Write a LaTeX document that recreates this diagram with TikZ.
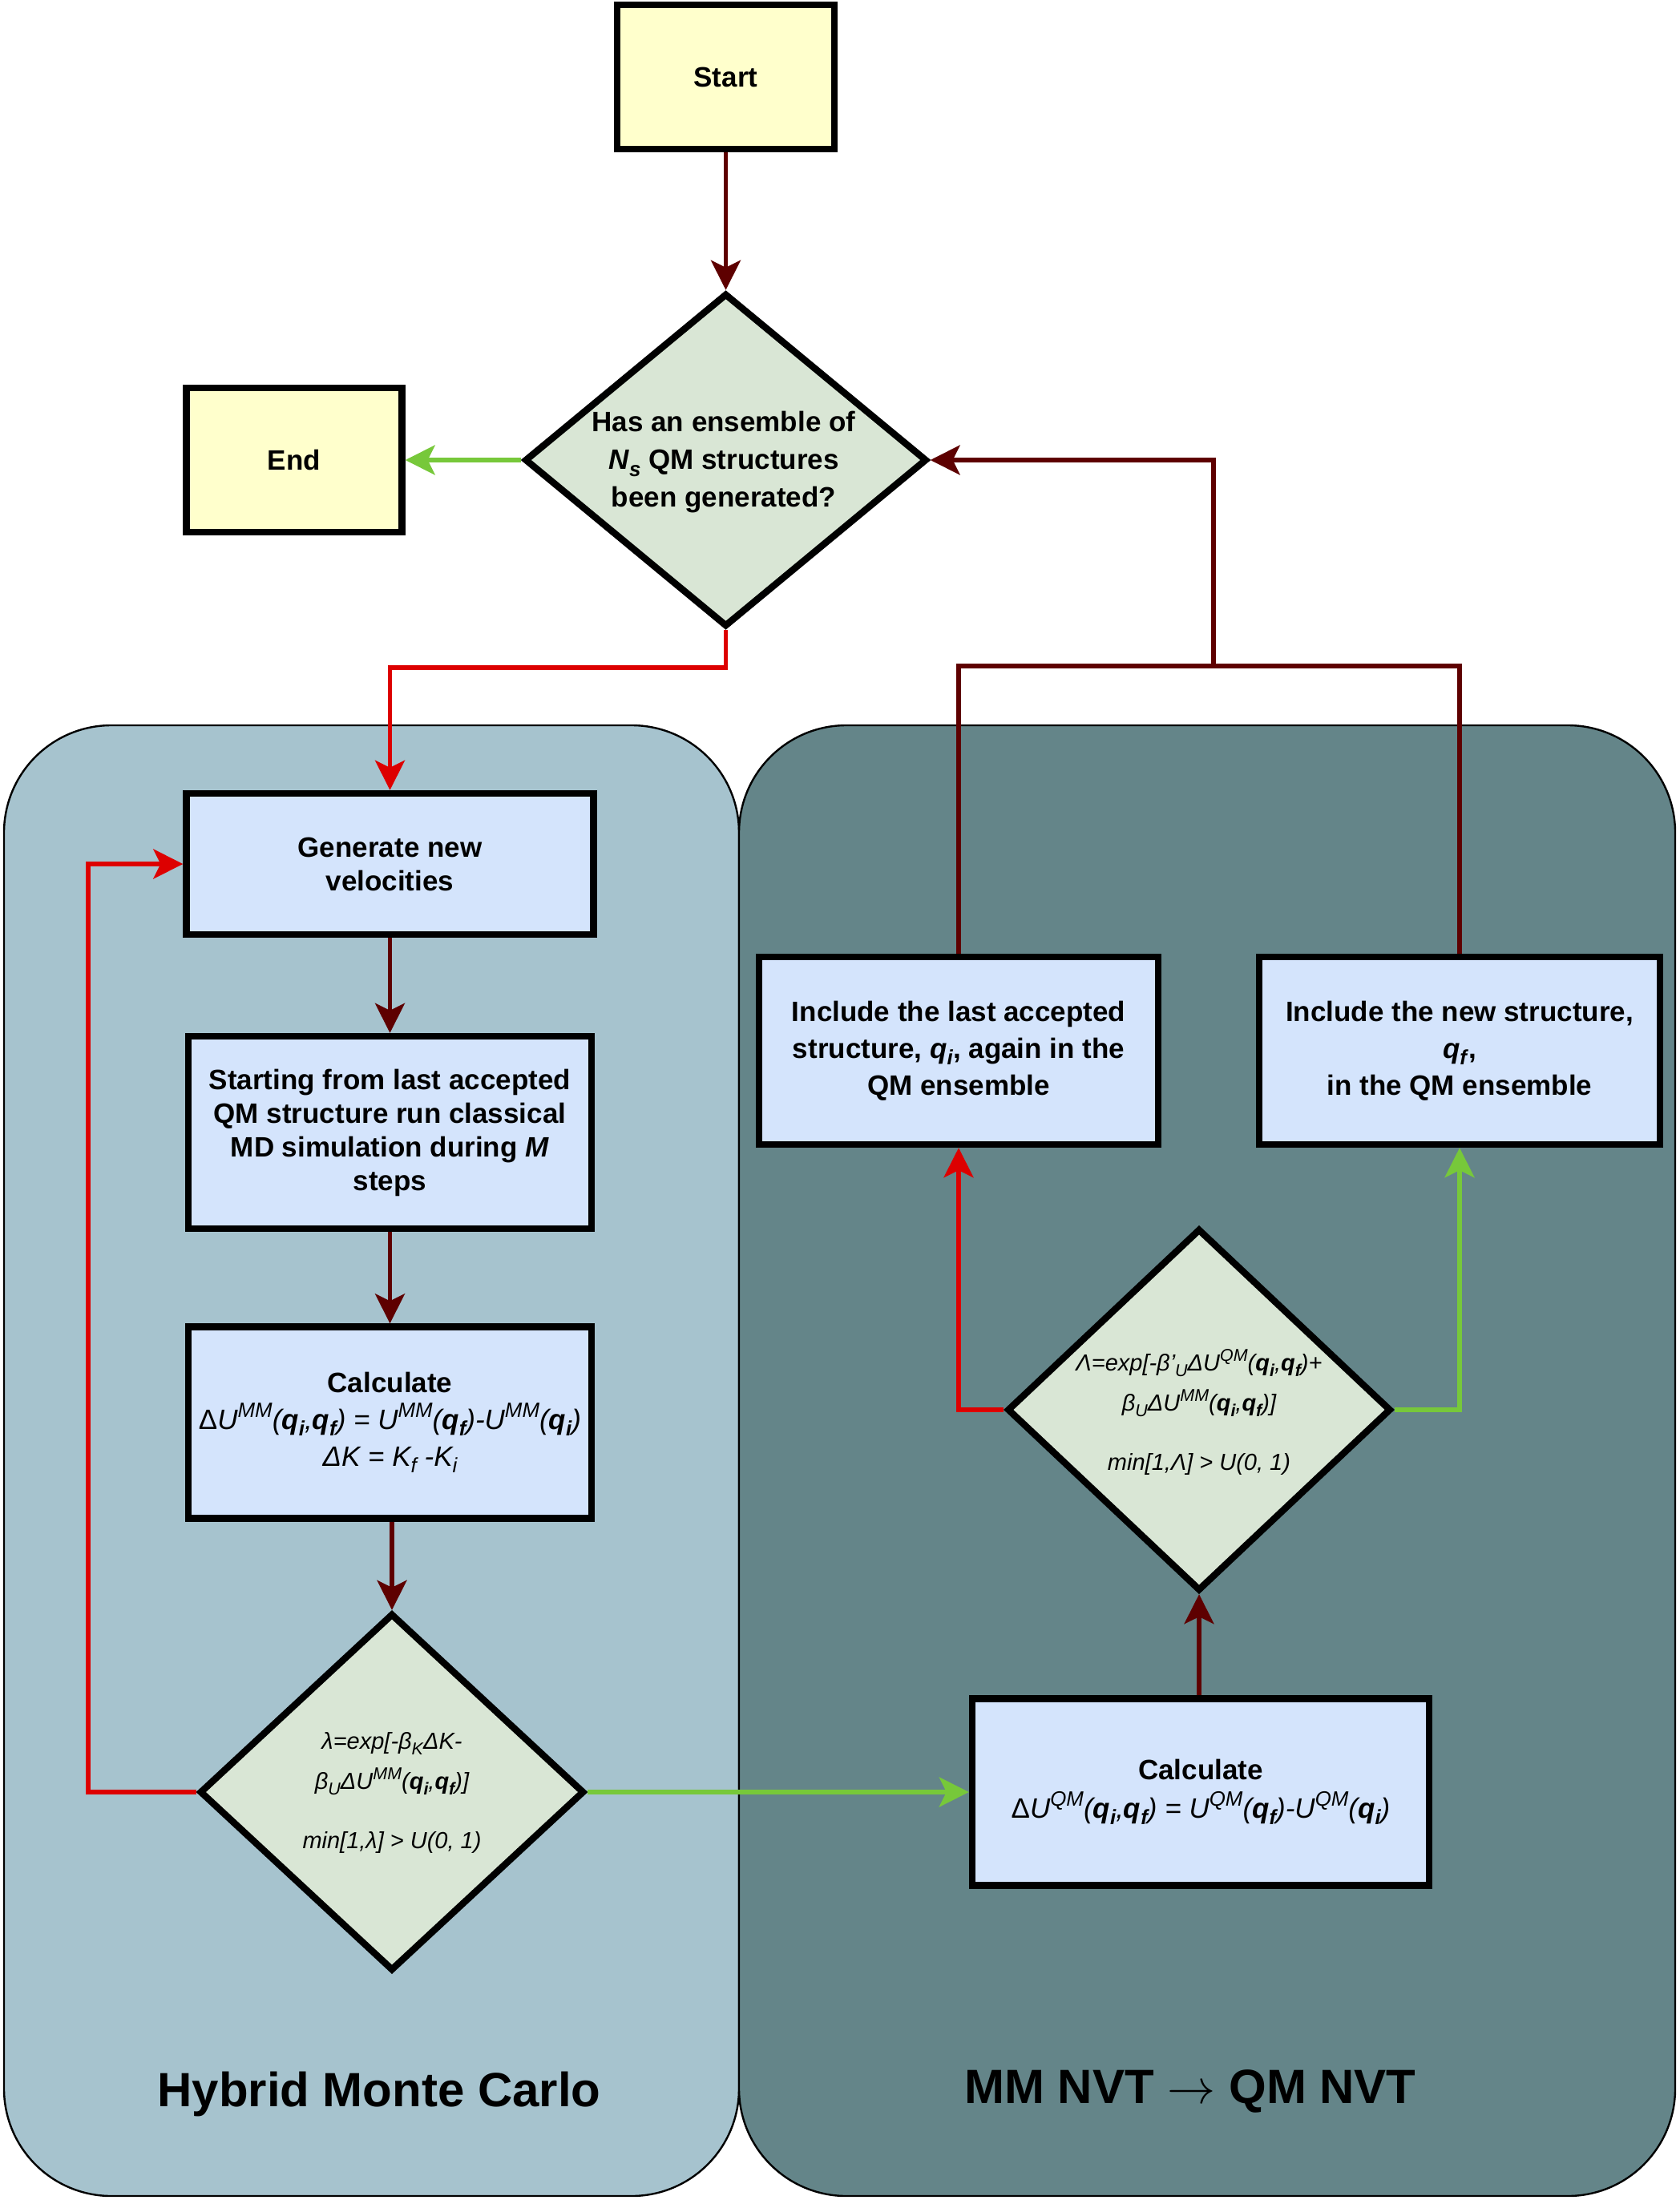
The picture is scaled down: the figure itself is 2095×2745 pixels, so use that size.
\documentclass[tikz,border=0pt]{standalone}
\usepackage{fix-cm}
\usepackage{graphicx}
\usepackage{fontspec}
\setmainfont{Liberation Sans}
\usetikzlibrary{shapes.geometric,arrows.meta,calc}
\definecolor{termyellow}{HTML}{FFFFCC}
\definecolor{diagreen}{HTML}{D9E6D5}
\definecolor{boxblue}{HTML}{D4E4FC}
\definecolor{leftbg}{HTML}{A6C3CE}
\definecolor{rightbg}{HTML}{648589}
\definecolor{dkred}{HTML}{5E0000}
\definecolor{brred}{HTML}{DD0000}
\definecolor{ltgreen}{HTML}{77C83A}
\newcommand\sups[1]{\raisebox{0.42em}{\scalebox{0.74}{#1}}}
\newcommand\subs[1]{\raisebox{-0.24em}{\scalebox{0.74}{#1}}}
\newcommand\qb[1]{\textbf{\textit{q}}\subs{\textbf{\textit{#1}}}}
\tikzset{
  box/.style={draw=black, line width=4.2pt, fill=boxblue, align=center, inner sep=0pt,
    font=\bfseries\fontsize{17.5pt}{21pt}\selectfont},
  term/.style={box, fill=termyellow},
  dia/.style={diamond, draw=black, line width=4.2pt, fill=diagreen, inner sep=0pt},
  dtext/.style={align=center, inner sep=0pt, font=\itshape\fontsize{14.5pt}{25pt}\selectfont},
  conn/.style={line width=2.8pt, -{Stealth[length=18.5pt,width=18.5pt,inset=4.5pt]}},
  plain/.style={line width=2.8pt},
  container/.style={draw=black, line width=1.2pt, rounded corners=67pt},
  title/.style={font=\bfseries\fontsize{30pt}{36pt}\selectfont, inner sep=0pt}
}
\begin{document}
\begin{tikzpicture}[x=0.5pt,y=-0.5pt]
\useasboundingbox (0,0) rectangle (2095,2745);
\fill[white] (0,0) rectangle (2095,2745);
% containers
\draw[container, fill=leftbg] (5,905) rectangle (922,2740);
\draw[container, fill=rightbg] (922,905) rectangle (2090,2740);
\node[title] (t1) at (473,2613) {Hybrid Monte Carlo};
\node[title] (t2) at (1485,2609) {MM NVT $\rightarrow$ QM NVT};
% nodes
\node[term, minimum width=135.5pt, minimum height=90pt] (start) at (905.5,96) {Start};
\node[term, minimum width=134.5pt, minimum height=90pt] (endbox) at (367,574) {End};
\node[dia, minimum width=251pt, minimum height=208pt] (dq) at (905.5,574) {};
\node[align=center, inner sep=0pt, font=\bfseries\fontsize{17.5pt}{23.5pt}\selectfont] (dqt) at (903,577)
  {Has an ensemble of\\ \textit{N}\subs{\textit{s}} QM structures\\ been generated?};
\node[box, minimum width=254pt, minimum height=88pt] (gen) at (486.5,1078) {Generate new\\velocities};
\node[box, minimum width=251.5pt, minimum height=120pt] (start2) at (486.5,1413)
  {Starting from last accepted\\QM structure run classical\\MD simulation during \textit{M}\\steps};
\node[box, minimum width=251.5pt, minimum height=119.5pt, font=\bfseries\fontsize{17.5pt}{23pt}\selectfont] (calcmm) at (486.5,1775)
  {Calculate\\ {\mdseries\itshape \textup{Δ}U\sups{MM}(\qb{i},\qb{f}) = U\sups{MM}(\qb{f})-U\sups{MM}(\qb{i})}\\
   {\mdseries\itshape ΔK = K\subs{f} -K\subs{i}}};
\node[dia, minimum width=240pt, minimum height=223pt] (ldia) at (489,2236) {};
\node[dtext] (ldiat) at (489,2237)
  {λ=exp[-β\subs{K}ΔK-\\ β\subs{U}ΔU\sups{MM}(\qb{i},\qb{f})]\\[12pt] min[1,λ] > U(0, 1)};
\node[box, minimum width=285pt, minimum height=116.5pt, font=\bfseries\fontsize{17.5pt}{24pt}\selectfont] (calcqm) at (1498,2236)
  {Calculate\\ {\mdseries\itshape \textup{Δ}U\sups{QM}(\qb{i},\qb{f}) = U\sups{QM}(\qb{f})-U\sups{QM}(\qb{i})}};
\node[dia, minimum width=239.5pt, minimum height=226pt] (Ldia) at (1496,1759) {};
\node[dtext] (Ldiat) at (1496,1762)
  {Λ=exp[-β'\subs{U}ΔU\sups{QM}(\qb{i},\qb{f})+\\ β\subs{U}ΔU\sups{MM}(\qb{i},\qb{f})]\\[12pt] min[1,Λ] > U(0, 1)};
\node[box, minimum width=249pt, minimum height=117pt, font=\bfseries\fontsize{17.5pt}{23pt}\selectfont] (incl1) at (1196,1311)
  {Include the last accepted\\structure, \textit{q}\subs{\textit{i}}, again in the\\QM ensemble};
\node[box, minimum width=250pt, minimum height=117pt, font=\bfseries\fontsize{17.5pt}{23pt}\selectfont] (incl2) at (1821,1311)
  {Include the new structure,\\\textit{q}\subs{\textit{f}},\\in the QM ensemble};
% helper coordinates
\coordinate (yq) at (0,833);
\coordinate (xl) at (110,0);
\coordinate (jn) at (1514,831);
% connectors
\draw[conn, dkred] (start) -- (dq.north);
\draw[conn, ltgreen] (dq.west) -- (endbox.east);
\draw[conn, brred] (dq.south) |- (yq -| gen.north) -- (gen.north);
\draw[conn, dkred] (gen) -- (start2);
\draw[conn, dkred] (start2) -- (calcmm);
\draw[conn, dkred] (calcmm.south -| ldia.north) -- (ldia.north);
\draw[conn, brred] (ldia.west) -| (xl |- gen.west) -- (gen.west);
\draw[conn, ltgreen] (ldia.east) -- (ldia.east -| calcqm.west);
\draw[conn, dkred] (calcqm.north -| Ldia.south) -- (Ldia.south);
\draw[conn, brred] (Ldia.west) -| (incl1.south);
\draw[conn, ltgreen] (Ldia.east) -| (incl2.south);
\draw[plain, dkred] (incl1.north) |- (jn);
\draw[plain, dkred] (incl2.north) |- (jn);
\draw[conn, dkred] (jn) |- (dq.east);
\end{tikzpicture}
\end{document}
